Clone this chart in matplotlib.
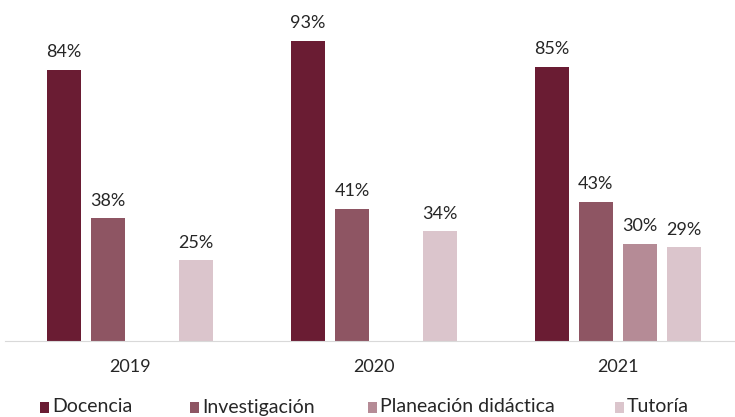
import numpy as np
import matplotlib.pyplot as plt
from matplotlib.patches import Rectangle

plt.rcParams['font.family'] = ['Lato', 'DejaVu Sans']

years = ['2019', '2020', '2021']
series = ['Docencia', 'Investigación', 'Planeación didáctica', 'Tutoría']
docencia = [84, 93, 85]
investigacion = [38, 41, 43]
planeacion = [np.nan, np.nan, 30]
tutoria = [25, 34, 29]
colors = ['#6a1c33', '#8e5563', '#b58b96', '#dbc5cc']

values = [docencia, investigacion, planeacion, tutoria]

fig = plt.figure(figsize=(7.35, 4.17), dpi=100)
ax = fig.add_axes([5 / 735, 76 / 417, 730 / 735, 341 / 417])

x = np.arange(len(years))
step = 0.18
width = 0.14
for i, (vals, col) in enumerate(zip(values, colors)):
    pos = x + (i - 1.5) * step
    for p, v in zip(pos, vals):
        if np.isnan(v):
            continue
        ax.bar(p, v, width=width, color=col)
        ax.text(p, v + 3, f'{v:.0f}%', ha='center', va='bottom',
                fontsize=13, color='#262626')

ax.set_xlim(-0.512, 2.48)
ax.set_ylim(0, 105.6)
ax.set_xticks(x)
ax.set_xticklabels(years, fontsize=13, color='#262626')
ax.tick_params(axis='x', length=0, pad=13)
ax.set_yticks([])
for s in ['top', 'right', 'left']:
    ax.spines[s].set_visible(False)
ax.spines['bottom'].set_color('#d9d9d9')

# legend drawn by hand to spread the entries like the original
leg_x = [40, 190, 368, 615]
for lx, c, s in zip(leg_x, colors, series):
    fig.patches.append(Rectangle((lx / 735, 4 / 417), 9 / 735, 11 / 417,
                                 transform=fig.transFigure, facecolor=c))
    fig.text((lx + 12) / 735, 10 / 417, s, fontsize=14, color='#262626',
             ha='left', va='center')

fig.savefig('out.png', dpi=100)
